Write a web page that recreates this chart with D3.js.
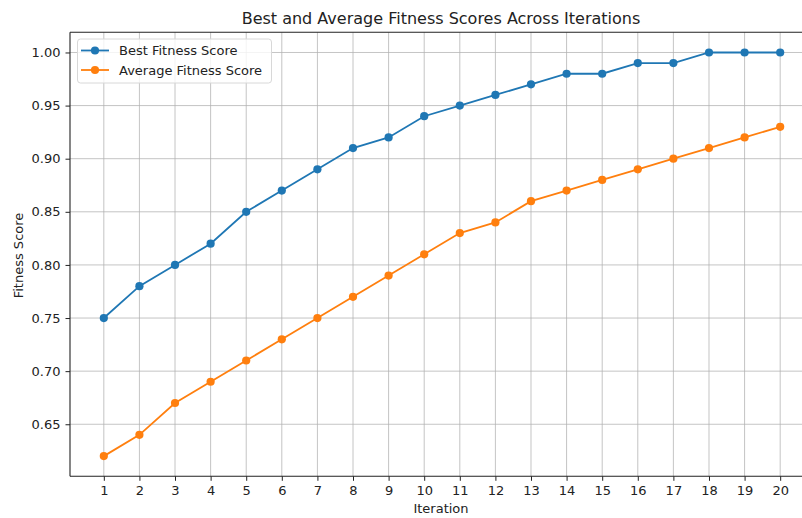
<!DOCTYPE html>
<html><head><meta charset="utf-8">
<script src="https://cdn.jsdelivr.net/npm/d3@7"></script>
<style>body{margin:0;background:#fff}svg{display:block}text{font-family:"DejaVu Sans",sans-serif;fill:#222}</style>
</head><body>
<svg id="c" width="802" height="518"></svg>
<script>
const iterations = [1,2,3,4,5,6,7,8,9,10,11,12,13,14,15,16,17,18,19,20];
const bestScores = [0.75,0.78,0.80,0.82,0.85,0.87,0.89,0.91,0.92,0.94,0.95,0.96,0.97,0.98,0.98,0.99,0.99,1.00,1.00,1.00];
const avgScores = [0.62,0.64,0.67,0.69,0.71,0.73,0.75,0.77,0.79,0.81,0.83,0.84,0.86,0.87,0.88,0.89,0.90,0.91,0.92,0.93];
const yTicks = [0.65,0.70,0.75,0.80,0.85,0.90,0.95,1.00];
const seriesNames = ["Best Fitness Score","Average Fitness Score"];
const colors = ["#1f77b4","#ff7f0e"];

const svg = d3.select("#c");
const L=70, R=814, T=32.3, B=476.3;
const x = d3.scaleLinear().domain([0.05,20.95]).range([L,R]);
const y = d3.scaleLinear().domain([0.601,1.019]).range([B,T]);

// grid
const g = svg.append("g");
g.selectAll("line.vx").data(iterations).enter().append("line")
  .attr("x1",d=>x(d)).attr("x2",d=>x(d)).attr("y1",T).attr("y2",B)
  .attr("stroke","#b0b0b0").attr("stroke-opacity",0.75).attr("stroke-width",1);
g.selectAll("line.hy").data(yTicks).enter().append("line")
  .attr("y1",d=>y(d)).attr("y2",d=>y(d)).attr("x1",L).attr("x2",R)
  .attr("stroke","#b0b0b0").attr("stroke-opacity",0.75).attr("stroke-width",1);

// axes
const xAxis = d3.axisBottom(x).tickValues(iterations).tickSize(4.5).tickPadding(5).tickFormat(d3.format("d"));
const yAxis = d3.axisLeft(y).tickValues(yTicks).tickSize(4.5).tickPadding(5).tickFormat(d3.format(".2f"));
const gx = svg.append("g").attr("transform",`translate(0,${B})`).call(xAxis);
const gy = svg.append("g").attr("transform",`translate(${L},0)`).call(yAxis);
[gx,gy].forEach(a=>{
  a.select(".domain").remove();
  a.selectAll(".tick line").attr("stroke","#222").attr("stroke-width",1);
  a.selectAll(".tick text").attr("font-size","13px").attr("fill","#222").attr("font-family","DejaVu Sans, sans-serif");
});
// spines
svg.append("line").attr("x1",L).attr("x2",L).attr("y1",T).attr("y2",B).attr("stroke","#222").attr("stroke-width",1.1);
svg.append("line").attr("x1",L).attr("x2",R).attr("y1",B).attr("y2",B).attr("stroke","#222").attr("stroke-width",1.1);
svg.append("line").attr("x1",L).attr("x2",R).attr("y1",T).attr("y2",T).attr("stroke","#222").attr("stroke-width",1.1);

// series
const data = [bestScores, avgScores];
data.forEach((vals,i)=>{
  const pts = iterations.map((it,j)=>[it, vals[j]]);
  svg.append("path").datum(pts)
    .attr("d", d3.line().x(d=>x(d[0])).y(d=>y(d[1])))
    .attr("fill","none").attr("stroke",colors[i]).attr("stroke-width",1.8);
  svg.append("g").selectAll("circle").data(pts).enter().append("circle")
    .attr("cx",d=>x(d[0])).attr("cy",d=>y(d[1])).attr("r",4.1).attr("fill",colors[i]);
});

// legend
const lg = svg.append("g");
lg.append("rect").attr("x",77.5).attr("y",39).attr("width",194).attr("height",44).attr("rx",3)
  .attr("fill","#fff").attr("fill-opacity",0.8).attr("stroke","#d8d8d8");
seriesNames.forEach((n,i)=>{
  const yy = 50.5 + i*19.5;
  lg.append("line").attr("x1",81).attr("x2",109).attr("y1",yy).attr("y2",yy).attr("stroke",colors[i]).attr("stroke-width",1.8);
  lg.append("circle").attr("cx",95).attr("cy",yy).attr("r",4.1).attr("fill",colors[i]);
  lg.append("text").attr("x",119).attr("y",yy+4.7).attr("font-size","13px").text(n);
});

// labels
svg.append("text").attr("x",441).attr("y",24).attr("text-anchor","middle").attr("font-size","16px").text("Best and Average Fitness Scores Across Iterations");
svg.append("text").attr("x",441).attr("y",513).attr("text-anchor","middle").attr("font-size","13px").text("Iteration");
svg.append("text").attr("transform","translate(23,255.5) rotate(-90)").attr("text-anchor","middle").attr("font-size","13px").text("Fitness Score");
</script>
</body></html>
